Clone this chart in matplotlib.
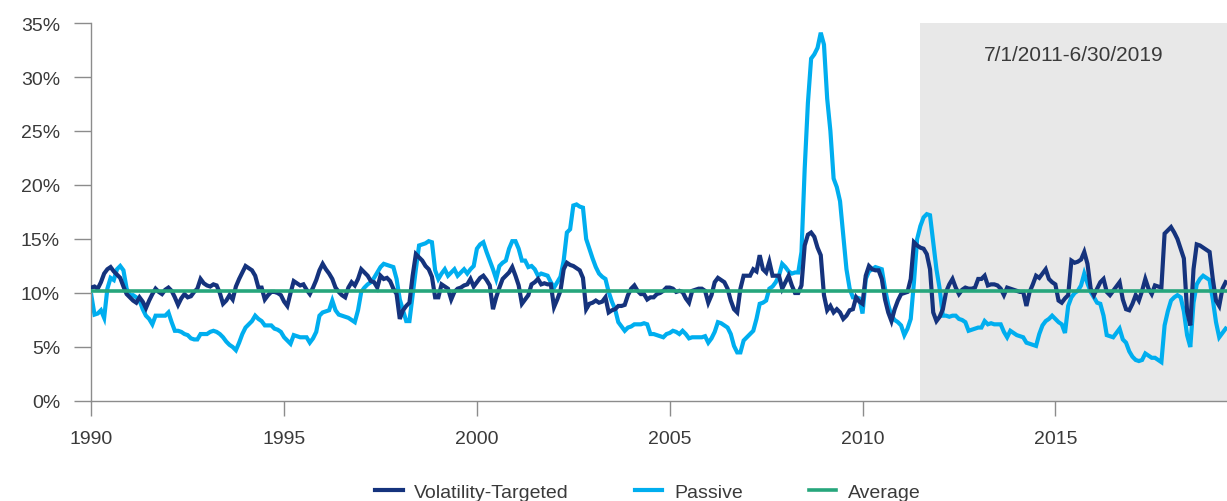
#!/usr/bin/env python3
"""
Rolling volatility: volatility-targeted vs passive portfolio, 1990-2019
"""

import numpy as np
import matplotlib
matplotlib.use('Agg')
import matplotlib.pyplot as plt

# Monthly values (%), Jan 1990 .. Jun 2019, one row per year
VOL_TARGETED = [
    [10.5, 10.6, 10.4, 11.0, 11.8, 12.2, 12.4, 12.0, 11.7, 11.4, 10.6, 9.9],   # 1990
    [9.6, 9.3, 9.1, 9.6, 9.2, 8.6, 9.3, 9.9, 10.4, 10.1, 9.9, 10.3],
    [10.5, 10.2, 9.6, 8.9, 9.5, 9.9, 9.6, 9.7, 10.1, 10.4, 11.3, 10.9],
    [10.7, 10.6, 10.8, 10.7, 10.0, 9.0, 9.3, 9.8, 9.4, 10.6, 11.3, 11.9],
    [12.5, 12.3, 12.1, 11.6, 10.5, 10.5, 9.4, 9.8, 10.1, 10.1, 10.0, 9.8],
    [9.2, 8.8, 10.0, 11.1, 10.9, 10.7, 10.8, 10.3, 9.9, 10.5, 11.2, 12.1],    # 1995
    [12.7, 12.2, 11.8, 11.3, 10.5, 10.1, 9.8, 9.6, 10.5, 11.0, 10.7, 11.3],
    [12.2, 11.9, 11.6, 11.1, 11.0, 10.5, 11.6, 11.3, 11.4, 11.1, 10.4, 9.9],
    [7.6, 8.4, 8.8, 9.1, 11.6, 13.6, 13.3, 13.0, 12.5, 12.2, 11.5, 9.6],
    [9.6, 10.8, 10.6, 10.4, 9.4, 10.1, 10.4, 10.5, 10.7, 10.8, 11.3, 10.6],
    [11.0, 11.4, 11.6, 11.2, 10.7, 8.5, 9.6, 10.5, 11.3, 11.6, 11.9, 12.4],   # 2000
    [11.6, 10.7, 9.0, 9.4, 9.8, 10.8, 11.0, 11.3, 10.8, 10.9, 10.8, 10.8],
    [8.7, 9.4, 10.2, 12.2, 12.8, 12.6, 12.5, 12.3, 12.1, 11.4, 8.5, 9.0],
    [9.1, 9.3, 9.1, 9.2, 9.6, 8.2, 8.4, 8.5, 8.8, 8.8, 8.9, 9.8],
    [10.4, 10.7, 10.2, 9.9, 9.9, 9.4, 9.6, 9.6, 9.9, 10.0, 10.2, 10.5],
    [10.5, 10.4, 10.1, 10.2, 10.1, 9.5, 9.1, 10.2, 10.3, 10.4, 10.4, 10.2],   # 2005
    [9.1, 9.8, 11.0, 11.4, 11.2, 11.0, 10.4, 9.3, 8.5, 8.2, 10.4, 11.6],
    [11.6, 11.6, 12.2, 12.0, 13.5, 12.2, 11.9, 12.9, 11.6, 11.6, 11.6, 10.4],
    [11.0, 11.6, 10.7, 10.0, 10.0, 10.7, 14.4, 15.4, 15.6, 15.2, 14.2, 13.5],
    [9.8, 8.4, 8.8, 8.2, 8.5, 8.2, 7.6, 7.9, 8.4, 8.5, 9.6, 9.2],
    [9.0, 11.6, 12.5, 12.2, 12.1, 12.1, 11.3, 9.4, 8.2, 7.4, 8.5, 9.3],      # 2010
    [9.9, 10.0, 10.1, 11.3, 14.7, 14.4, 14.2, 14.1, 13.6, 12.2, 8.2, 7.4],
    [7.8, 8.5, 10.1, 10.8, 11.3, 10.5, 9.9, 10.3, 10.5, 10.4, 10.4, 10.5],
    [11.3, 11.3, 11.6, 10.7, 10.8, 10.8, 10.7, 10.4, 9.8, 10.5, 10.4, 10.3],
    [10.2, 10.1, 10.1, 8.8, 10.1, 10.8, 11.6, 11.4, 11.8, 12.2, 11.3, 11.0],
    [10.8, 9.3, 9.1, 9.5, 9.8, 13.0, 12.8, 12.9, 13.1, 13.8, 12.7, 10.4],     # 2015
    [9.8, 10.4, 11.0, 11.3, 10.1, 9.8, 10.2, 10.6, 11.0, 9.4, 8.5, 8.4],
    [9.0, 9.8, 9.3, 10.2, 11.3, 10.4, 9.9, 10.7, 10.6, 10.5, 15.5, 15.8],
    [16.1, 15.6, 15.0, 14.1, 13.2, 8.3, 7.0, 12.2, 14.5, 14.4, 14.2, 14.0],
    [13.8, 11.3, 9.3, 8.8, 10.4, 11.0],                                       # 2019 H1
]

PASSIVE = [
    [9.8, 8.0, 8.1, 8.4, 7.7, 10.4, 11.4, 11.2, 12.2, 12.5, 12.1, 10.4],     # 1990
    [9.8, 9.8, 9.6, 9.3, 8.5, 7.9, 7.6, 7.1, 7.9, 7.9, 7.9, 7.9],
    [8.2, 7.3, 6.5, 6.5, 6.4, 6.2, 6.1, 5.8, 5.7, 5.7, 6.2, 6.2],
    [6.2, 6.4, 6.5, 6.4, 6.2, 5.9, 5.5, 5.2, 5.0, 4.7, 5.4, 6.2],
    [6.8, 7.1, 7.4, 7.9, 7.6, 7.4, 7.0, 7.0, 7.0, 6.7, 6.6, 6.4],
    [5.9, 5.6, 5.3, 6.1, 6.0, 5.9, 5.9, 5.9, 5.4, 5.8, 6.4, 7.9],           # 1995
    [8.2, 8.3, 8.4, 9.3, 8.4, 8.0, 7.9, 7.8, 7.7, 7.5, 7.3, 8.4],
    [10.1, 10.5, 10.8, 11.0, 11.4, 11.9, 12.4, 12.7, 12.6, 12.5, 12.4, 11.3],
    [9.4, 8.4, 7.4, 7.4, 9.8, 12.2, 14.4, 14.5, 14.6, 14.8, 14.7, 12.1],
    [11.3, 11.8, 12.2, 11.6, 11.9, 12.2, 11.6, 11.9, 12.2, 11.8, 12.2, 12.5],
    [14.1, 14.5, 14.7, 13.8, 13.0, 12.2, 11.3, 12.5, 12.8, 13.0, 14.1, 14.8], # 2000
    [14.8, 14.1, 13.0, 13.0, 12.4, 12.5, 12.2, 11.6, 11.8, 11.7, 11.6, 11.0],
    [10.5, 11.0, 11.5, 13.0, 15.6, 15.9, 18.1, 18.2, 18.0, 17.9, 15.0, 14.1],
    [13.2, 12.4, 11.8, 11.5, 11.3, 10.1, 9.2, 8.5, 7.3, 6.9, 6.5, 6.8],
    [6.9, 7.1, 7.1, 7.1, 7.2, 7.1, 6.2, 6.2, 6.1, 6.0, 5.9, 6.2],
    [6.3, 6.5, 6.4, 6.2, 6.5, 6.2, 5.8, 5.9, 5.9, 5.9, 5.9, 6.0],           # 2005
    [5.4, 5.8, 6.4, 7.3, 7.2, 7.0, 6.8, 6.2, 5.1, 4.5, 4.5, 5.6],
    [5.9, 6.2, 6.5, 7.6, 9.0, 9.1, 9.3, 10.4, 10.6, 11.0, 11.6, 12.7],
    [12.4, 12.0, 11.8, 11.9, 11.9, 13.8, 21.5, 27.6, 31.7, 32.1, 32.7, 34.1],
    [33.0, 28.0, 25.0, 20.6, 19.8, 18.5, 15.3, 12.2, 10.4, 9.6, 9.6, 9.5],
    [8.1, 11.3, 12.0, 12.2, 12.4, 12.3, 12.2, 10.4, 8.9, 7.9, 7.5, 7.3],    # 2010
    [7.0, 6.1, 6.7, 7.6, 11.0, 15.0, 16.2, 17.0, 17.3, 17.2, 14.7, 12.2],
    [10.4, 7.9, 7.9, 7.8, 7.9, 7.9, 7.6, 7.5, 7.3, 6.5, 6.6, 6.7],
    [6.8, 6.8, 7.4, 7.1, 7.2, 7.1, 7.1, 7.1, 6.4, 5.9, 6.5, 6.3],
    [6.1, 6.0, 5.9, 5.4, 5.3, 5.2, 5.1, 6.2, 7.0, 7.4, 7.6, 7.9],
    [7.6, 7.3, 7.1, 6.3, 8.8, 9.6, 10.0, 10.2, 10.7, 11.8, 10.9, 10.1],     # 2015
    [9.6, 9.1, 9.0, 7.9, 6.1, 6.0, 5.9, 6.3, 6.7, 5.7, 5.4, 4.6],
    [4.1, 3.8, 3.7, 3.8, 4.4, 4.2, 4.0, 4.0, 3.8, 3.6, 7.0, 8.3],
    [9.3, 9.6, 9.8, 9.6, 8.3, 6.1, 5.0, 9.1, 10.8, 11.3, 11.6, 11.4],
    [11.2, 9.4, 7.3, 5.9, 6.3, 6.7],                                         # 2019 H1
]

AVERAGE = 10.2
START_YEAR = 1990
X_TICKS = [1990, 1995, 2000, 2005, 2010, 2015]
Y_TICKS = [0, 5, 10, 15, 20, 25, 30, 35]
SHADE_START = 2011.5        # 7/1/2011
SHADE_LABEL = '7/1/2011-6/30/2019'

NAVY = '#15337d'
SKY = '#00aeef'
GREEN = '#26a67c'
SHADE = '#e8e8e8'
TEXT = '#3a3a3a'
SPINE = '#8c8c8c'


def main():
    plt.rcParams['font.family'] = ['Liberation Sans', 'DejaVu Sans']

    vol = np.concatenate([np.array(v, dtype=float) for v in VOL_TARGETED])
    pas = np.concatenate([np.array(v, dtype=float) for v in PASSIVE])
    x = START_YEAR + np.arange(len(vol)) / 12.0
    x_end = x[-1] + 0.035

    fig = plt.figure(figsize=(12.27, 5.02), dpi=100)
    ax = fig.add_axes([91.3 / 1227, 1 - 402 / 502, 1 - 91.3 / 1227, (402 - 24) / 502])

    # shaded out-of-sample period
    ax.axvspan(SHADE_START, x_end, color=SHADE, lw=0, zorder=0)
    ax.text((SHADE_START + x_end) / 2, 32.1, SHADE_LABEL,
            ha='center', va='center', fontsize=15, color=TEXT)

    ax.plot(x, vol, color=NAVY, lw=3.0, solid_joinstyle='miter',
            label='Volatility-Targeted', zorder=3)
    ax.plot(x, pas, color=SKY, lw=3.0, solid_joinstyle='miter',
            label='Passive', zorder=2)
    ax.plot([START_YEAR, x_end], [AVERAGE, AVERAGE], color=GREEN, lw=2.6,
            label='Average', zorder=4)

    ax.set_xlim(START_YEAR, x_end)
    ax.set_ylim(0, 35)
    ax.set_xticks(X_TICKS)
    ax.set_yticks(Y_TICKS)
    ax.set_yticklabels([f'{v}%' for v in Y_TICKS])

    for side in ['top', 'right']:
        ax.spines[side].set_visible(False)
    for side in ['left', 'bottom']:
        ax.spines[side].set_color(SPINE)
        ax.spines[side].set_linewidth(1.0)

    ax.tick_params(axis='y', length=12.5, width=1.0, color=SPINE, pad=10,
                   labelsize=14, labelcolor=TEXT)
    ax.tick_params(axis='x', length=11, width=1.0, color=SPINE, pad=10,
                   labelsize=14, labelcolor=TEXT)

    handles, labels = ax.get_legend_handles_labels()
    fig.legend(handles, labels, loc='center', bbox_to_anchor=(0.528, 0.018),
               ncol=3, frameon=False, fontsize=14, labelcolor=TEXT,
               handlelength=1.4, handletextpad=0.6, columnspacing=3.4)

    fig.savefig('out.png', dpi=100)


if __name__ == "__main__":
    main()
